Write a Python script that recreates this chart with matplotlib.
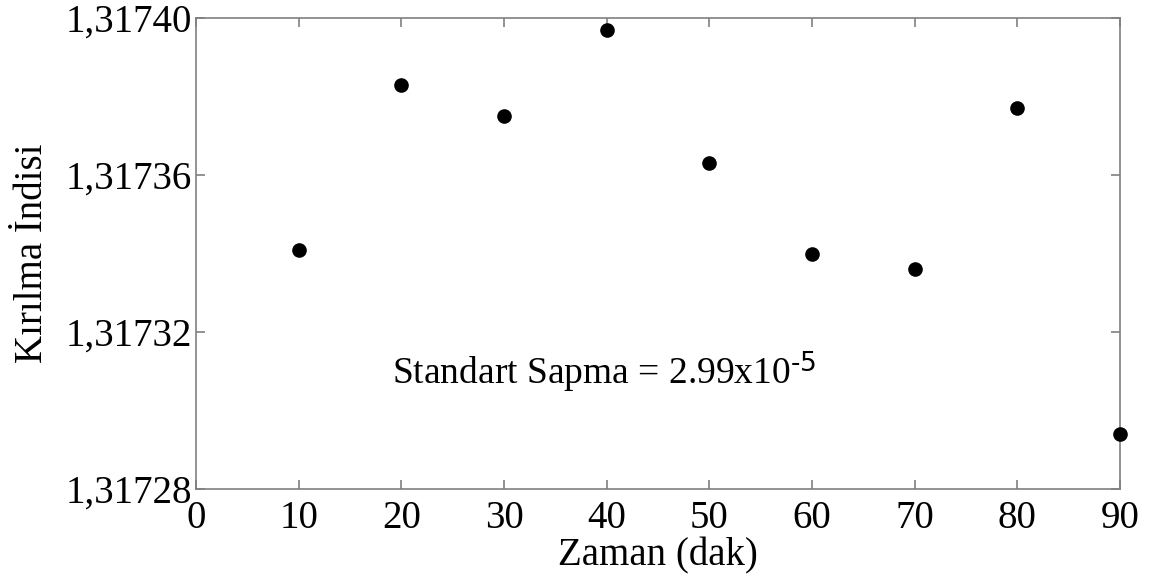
import matplotlib
matplotlib.use('Agg')
from matplotlib import pyplot as plt
from matplotlib.ticker import FuncFormatter

plt.rcParams['font.family'] = ['Liberation Serif', 'DejaVu Serif']
plt.rcParams['mathtext.default'] = 'regular'

# zaman (dak) ve kirilma indisi degerleri
zaman = [10, 20, 30, 40, 50, 60, 70, 80, 90]
indis = [1.317341, 1.317383, 1.317375, 1.317397, 1.317363,
         1.317340, 1.317336, 1.317377, 1.317294]

x_ticks = [0, 10, 20, 30, 40, 50, 60, 70, 80, 90]
y_ticks = [1.31728, 1.31732, 1.31736, 1.31740]

fig = plt.figure(figsize=(11.55, 5.83), dpi=100)
ax = fig.add_axes([0.1697, 0.1612, 0.8, 0.8079])

ax.plot(zaman, indis, 'o', color='black', markersize=9.5, clip_on=False, zorder=5)

ax.set_xlim(0, 90)
ax.set_ylim(1.31728, 1.31740)
ax.set_xticks(x_ticks)
ax.set_yticks(y_ticks)
ax.yaxis.set_major_formatter(FuncFormatter(lambda v, p: ('%.5f' % v).replace('.', ',')))

for s in ax.spines.values():
	s.set_color('#808080')
	s.set_linewidth(1.2)
ax.tick_params(direction='in', top=True, right=True, length=6.5, width=1.2,
               color='#808080', labelsize=28)
ax.tick_params(axis='y', pad=3)
ax.tick_params(axis='x', pad=8)

ax.set_xlabel('Zaman (dak)', fontsize=28, labelpad=0)
ax.set_ylabel('Kırılma İndisi', fontsize=28, labelpad=10)

ax.text(0.212, 0.248, r'Standart Sapma = 2.99x10$^{\text{-5}}$', transform=ax.transAxes,
        fontsize=27, va='center', ha='left')

fig.savefig('out.png', dpi=100, facecolor='white')
